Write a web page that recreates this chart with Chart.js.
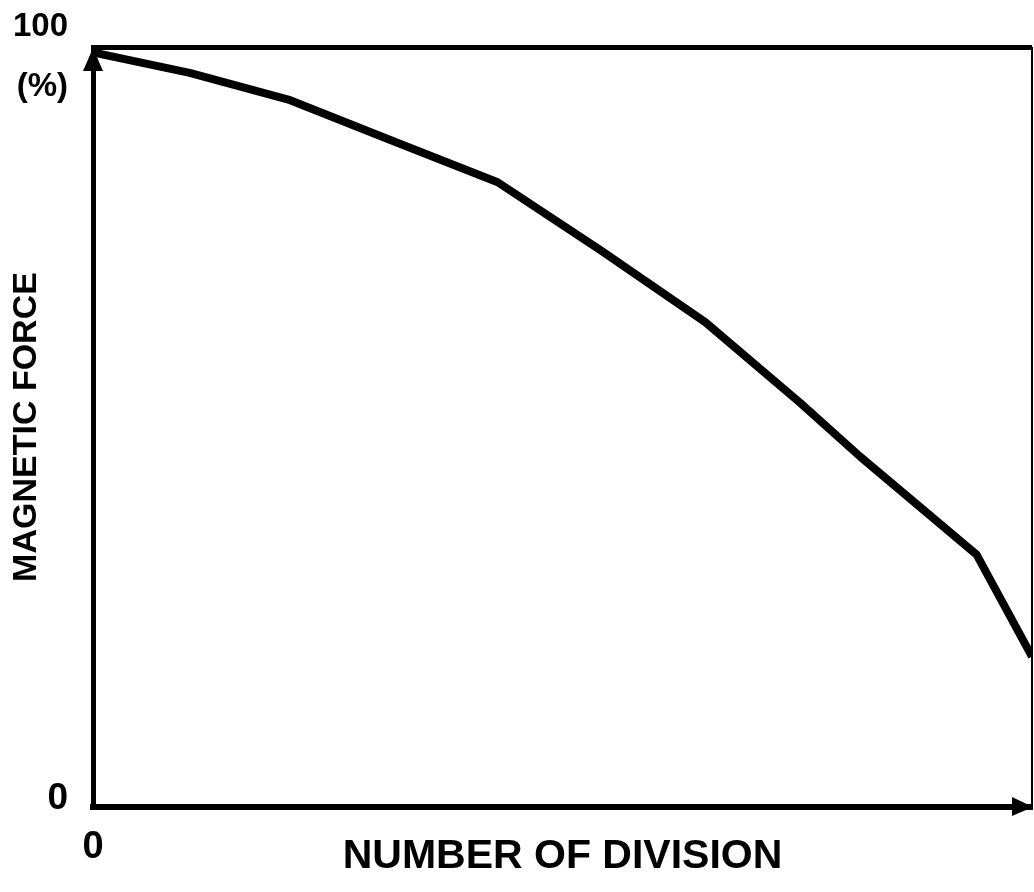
<!DOCTYPE html>
<html>
<head>
<meta charset="utf-8">
<script src="https://cdn.jsdelivr.net/npm/chart.js@4"></script>
<style>
  body { margin: 0; background: #fff; }
  #wrap { width: 1034px; height: 892px; }
</style>
</head>
<body>
<div id="wrap"><canvas id="forceChart"></canvas></div>
<script>
// Dados da curva (divisao x forca magnetica)
const divisions = [0, 10.3, 21.0, 31.6, 43.1, 54.0, 65.2, 75.3, 81.7, 94.1, 100];
const magneticForce = [99.3, 96.6, 93.0, 87.8, 82.2, 73.3, 63.8, 53.2, 46.1, 33.2, 19.8];

// Rotulos dos eixos
const xTickValues = [0, 100];
const xTickLabels = ['0', ''];
const yTickValues = [0, 100];
const yTickLabels = [['0', ''], ['100', '(%)']];

const black = '#000';
const fontFamily = 'Liberation Sans, Arial, sans-serif';

// Setas nas pontas dos eixos
const arrowPlugin = {
  id: 'arrows',
  afterDraw(chart) {
    const { ctx, chartArea: a } = chart;
    ctx.save();
    ctx.fillStyle = black;
    ctx.beginPath();
    ctx.moveTo(a.left, a.top + 1);
    ctx.lineTo(a.left - 10, a.top + 24);
    ctx.lineTo(a.left + 10, a.top + 24);
    ctx.closePath();
    ctx.fill();
    ctx.beginPath();
    ctx.moveTo(a.right + 1, a.bottom);
    ctx.lineTo(a.right - 20, a.bottom - 10);
    ctx.lineTo(a.right - 20, a.bottom + 9);
    ctx.closePath();
    ctx.fill();
    ctx.restore();
  }
};

const ctx = document.getElementById('forceChart').getContext('2d');

const chart = new Chart(ctx, {
  type: 'line',
  data: {
    datasets: [{
      data: divisions.map((x, i) => ({ x: x, y: magneticForce[i] })),
      borderColor: black,
      borderWidth: 8,
      borderJoinStyle: 'round',
      pointRadius: 0,
      tension: 0
    }]
  },
  options: {
    responsive: true,
    maintainAspectRatio: false,
    animation: false,
    layout: {
      autoPadding: false,
      padding: { top: 47, right: 2, left: 0, bottom: 0 }
    },
    plugins: {
      legend: { display: false },
      tooltip: { enabled: false }
    },
    scales: {
      x: {
        type: 'linear',
        min: 0,
        max: 100,
        afterBuildTicks: (scale) => { scale.ticks = xTickValues.map(v => ({ value: v })); },
        afterFit: (scale) => {
          scale.height = 85;
          scale.paddingLeft = 0;
          scale.paddingRight = 0;
        },
        ticks: {
          color: black,
          padding: 18,
          font: { family: fontFamily, size: 38, weight: 'bold' },
          callback: (value, index) => xTickLabels[index]
        },
        grid: {
          drawTicks: false,
          color: (c) => c.tick && c.tick.value === 100 ? black : 'rgba(0,0,0,0)',
          lineWidth: 2
        },
        border: { color: black, width: 6 },
        title: {
          display: true,
          text: 'NUMBER OF DIVISION',
          color: black,
          font: { family: fontFamily, size: 41, weight: 'bold' },
          padding: { top: 0, bottom: 11 }
        }
      },
      y: {
        type: 'linear',
        min: 0,
        max: 100,
        afterBuildTicks: (scale) => { scale.ticks = yTickValues.map(v => ({ value: v })); },
        afterFit: (scale) => {
          scale.width = 93;
          scale.paddingTop = 0;
          scale.paddingBottom = 0;
        },
        ticks: {
          color: black,
          padding: 25,
          labelOffset: 10,
          font: (c) => c.index === 0
            ? { family: fontFamily, size: 37, weight: 'bold', lineHeight: 1.0 }
            : { family: fontFamily, size: 33, weight: 'bold', lineHeight: 1.8 },
          callback: (value, index) => yTickLabels[index]
        },
        grid: {
          drawTicks: false,
          color: (c) => c.tick && c.tick.value === 100 ? black : 'rgba(0,0,0,0)',
          lineWidth: 5
        },
        border: { color: black, width: 5 },
        title: {
          display: true,
          text: 'MAGNETIC FORCE',
          color: black,
          font: { family: fontFamily, size: 34, weight: 'bold' },
          padding: { top: 6, bottom: 0 }
        }
      }
    }
  },
  plugins: [arrowPlugin]
});
</script>
</body>
</html>
